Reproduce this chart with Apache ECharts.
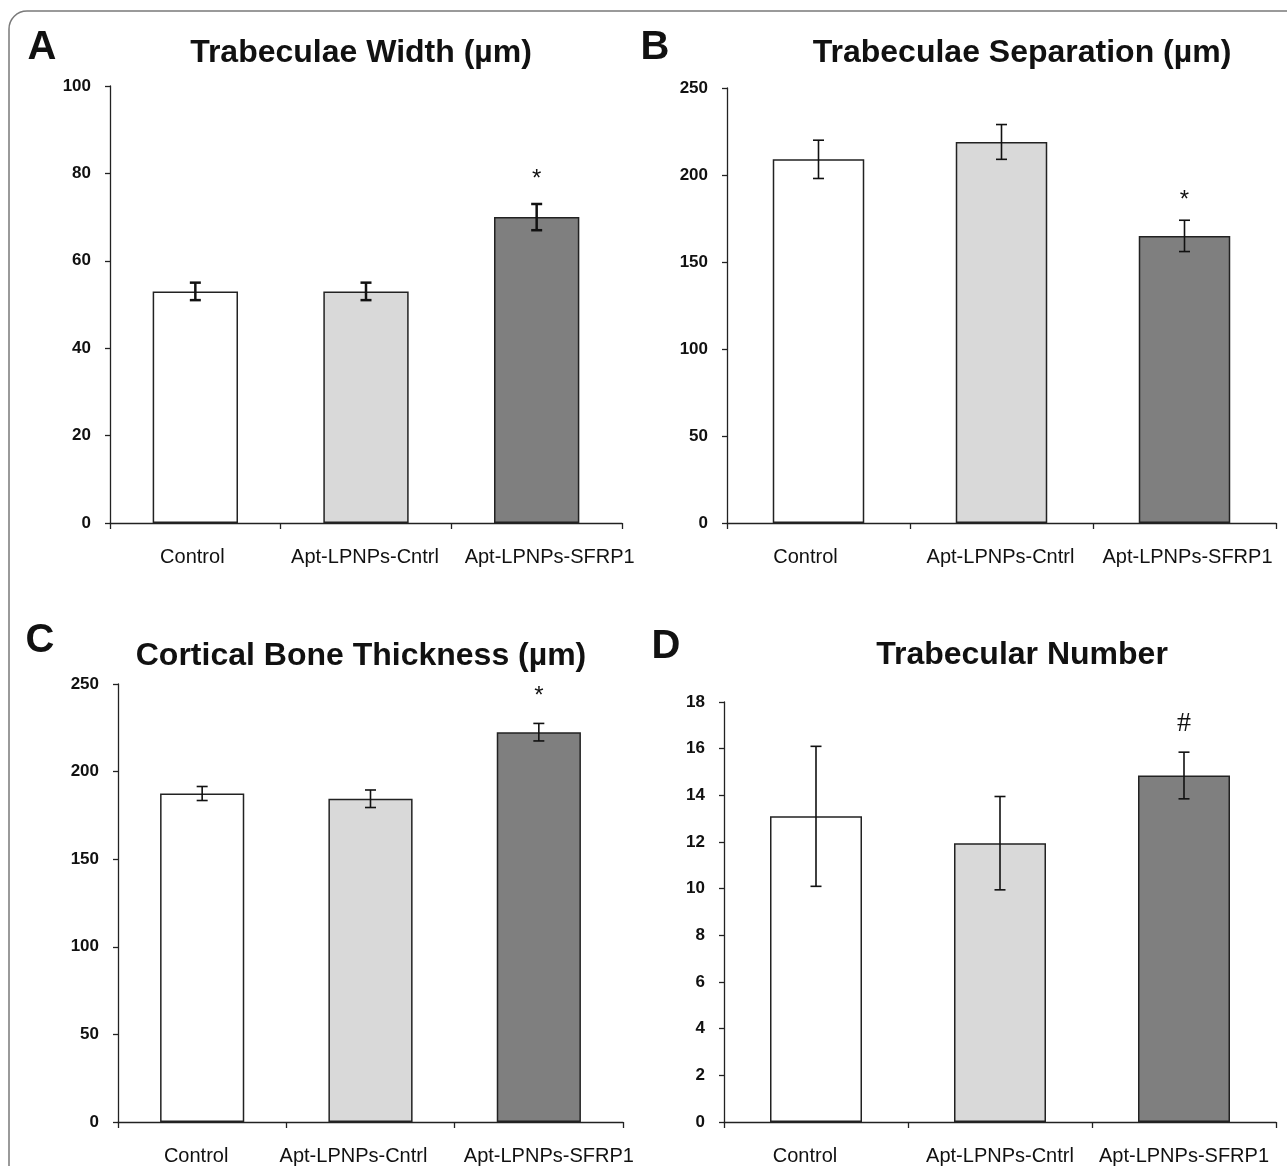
<!DOCTYPE html>
<html>
<head>
<meta charset="utf-8">
<script src="https://cdn.jsdelivr.net/npm/echarts@6/dist/echarts.min.js"></script>
<style>html,body{margin:0;padding:0;background:#fff}#c{width:1287px;height:1166px}</style>
</head>
<body>
<div id="c"></div>
<script>
// ---- data ----
const categories = ['Control', 'Apt-LPNPs-Cntrl', 'Apt-LPNPs-SFRP1'];
const titles = ['Trabeculae Width (µm)', 'Trabeculae Separation (µm)', 'Cortical Bone Thickness (µm)', 'Trabecular Number'];
const letters = ['A', 'B', 'C', 'D'];

const widthMean = [53, 53, 70];
const widthErr = [2, 2, 3];
const widthMarks = ['', '', '*'];
const widthTicks = [0, 20, 40, 60, 80, 100];

const sepMean = [209, 219, 165];
const sepErr = [11, 10, 9];
const sepMarks = ['', '', '*'];
const sepTicks = [0, 50, 100, 150, 200, 250];

const cortMean = [187.5, 184.5, 222.5];
const cortErr = [4, 5, 5];
const cortMarks = ['', '', '*'];
const cortTicks = [0, 50, 100, 150, 200, 250];

const numMean = [13.1, 11.95, 14.85];
const numErr = [3.0, 2.0, 1.0];
const numMarks = ['', '', '#'];
const numTicks = [0, 2, 4, 6, 8, 10, 12, 14, 16, 18];

// ---- layout / style ----
const barColors = ['#ffffff', '#d9d9d9', '#7f7f7f'];
const panels = [
  {mean: widthMean, err: widthErr, marks: widthMarks, ticks: widthTicks,
   grid: {left: 110, top: 86, width: 512, height: 437}, titlePos: [361, 53], letterPos: [42, 48],
   errLW: 2.5, markGap: 25, shift: [-3, -1, 13], markFont: '24px "Liberation Sans"'},
  {mean: sepMean, err: sepErr, marks: sepMarks, ticks: sepTicks,
   grid: {left: 727, top: 88, width: 549, height: 435}, titlePos: [1022, 53], letterPos: [655, 48],
   errLW: 1.6, markGap: 20, shift: [-13, -1, 3], markFont: '24px "Liberation Sans"'},
  {mean: cortMean, err: cortErr, marks: cortMarks, ticks: cortTicks,
   grid: {left: 118, top: 684, width: 505, height: 439}, titlePos: [361, 656], letterPos: [40, 641],
   errLW: 1.6, markGap: 27, shift: [-6, -17, 10], markFont: '24px "Liberation Sans"'},
  {mean: numMean, err: numErr, marks: numMarks, ticks: numTicks,
   grid: {left: 724, top: 702, width: 552, height: 424}, titlePos: [1022, 655], letterPos: [666, 647],
   errLW: 1.6, markGap: 29, shift: [-11, 0, 0], markFont: '28px "Liberation Serif"'}
];

const grids = [], xAxes = [], yAxes = [], series = [], graphics = [];

graphics.push({type: 'rect', z: -10, shape: {x: 9, y: 11, width: 1320, height: 1220, r: 18},
  style: {fill: 'none', stroke: '#7a7a7a', lineWidth: 1.5}});

panels.forEach((p, i) => {
  grids.push(Object.assign({containLabel: false}, p.grid));
  xAxes.push({
    type: 'category', gridIndex: i,
    data: categories.map((c, j) => {
      const s = p.shift[j];
      return {value: c, textStyle: {padding: s >= 0 ? [0, 0, 0, 2 * s] : [0, -2 * s, 0, 0]}};
    }),
    axisLine: {show: true, lineStyle: {color: '#222', width: 1.3}},
    axisTick: {show: true, length: 6, interval: 0, lineStyle: {color: '#222', width: 1.3}},
    axisLabel: {interval: 0, fontSize: 20, margin: 24, color: '#111', fontFamily: '"Liberation Sans", Arial, sans-serif'},
    splitLine: {show: false}
  });
  const t = p.ticks;
  yAxes.push({
    type: 'value', gridIndex: i, min: t[0], max: t[t.length - 1], interval: t[1] - t[0],
    axisLine: {show: true, lineStyle: {color: '#222', width: 1.3}},
    axisTick: {show: true, length: 5, lineStyle: {color: '#222', width: 1.3}},
    axisLabel: {fontSize: 17, fontWeight: 'bold', color: '#111', margin: 19, fontFamily: '"Liberation Sans", Arial, sans-serif'},
    splitLine: {show: false}
  });
  series.push({
    type: 'bar', xAxisIndex: i, yAxisIndex: i, barWidth: '50%', animation: false,
    itemStyle: {borderColor: '#222', borderWidth: 1.5},
    data: p.mean.map((v, j) => ({value: v, itemStyle: {color: barColors[j]}}))
  });
  series.push({
    type: 'custom', xAxisIndex: i, yAxisIndex: i, z: 5, animation: false,
    encode: {x: 0, y: 1},
    data: p.mean.map((v, j) => [j, v, p.err[j]]),
    renderItem: (params, api) => {
      const x = api.value(0), m = api.value(1), e = api.value(2);
      const top = api.coord([x, m + e]);
      const bot = api.coord([x, m - e]);
      const cap = 5.5;
      const ls = {stroke: '#111', lineWidth: p.errLW};
      const children = [
        {type: 'line', shape: {x1: top[0], y1: top[1], x2: bot[0], y2: bot[1]}, style: ls},
        {type: 'line', shape: {x1: top[0] - cap, y1: top[1], x2: top[0] + cap, y2: top[1]}, style: ls},
        {type: 'line', shape: {x1: bot[0] - cap, y1: bot[1], x2: bot[0] + cap, y2: bot[1]}, style: ls}
      ];
      const mk = p.marks[params.dataIndex];
      if (mk) {
        children.push({type: 'text', style: {text: mk, x: top[0], y: top[1] - p.markGap,
          align: 'center', verticalAlign: 'middle', font: p.markFont, fill: '#111'}});
      }
      return {type: 'group', children};
    }
  });
  graphics.push({type: 'text', style: {text: titles[i], x: p.titlePos[0], y: p.titlePos[1],
    align: 'center', verticalAlign: 'middle', font: 'bold 32px "Liberation Sans", Arial, sans-serif', fill: '#111'}});
  graphics.push({type: 'text', style: {text: letters[i], x: p.letterPos[0], y: p.letterPos[1],
    align: 'center', verticalAlign: 'middle', font: 'bold 40px "Liberation Sans", Arial, sans-serif', fill: '#111'}});
});

const chart = echarts.init(document.getElementById('c'), null, {renderer: 'canvas'});
chart.setOption({
  backgroundColor: '#ffffff',
  animation: false,
  grid: grids, xAxis: xAxes, yAxis: yAxes, series: series, graphic: graphics
});
</script>
</body>
</html>
